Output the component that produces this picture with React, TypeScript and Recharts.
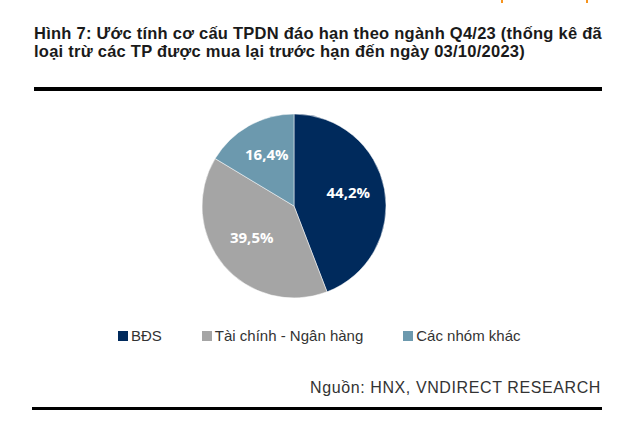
import React from 'react';
import { PieChart, Pie, Cell, Legend } from 'recharts';

const categories = ['BĐS', 'Tài chính - Ngân hàng', 'Các nhóm khác'];
const shares = [44.2, 39.5, 16.4];
const colors = ['#002A5C', '#A5A5A5', '#6C99AE'];
const titleLines = [
  'Hình 7: Ước tính cơ cấu TPDN đáo hạn theo ngành Q4/23 (thống kê đã',
  'loại trừ các TP được mua lại trước hạn đến ngày 03/10/2023)',
];
const sourceText = 'Nguồn: HNX, VNDIRECT RESEARCH';

const data = categories.map((name, i) => ({ name, value: shares[i] }));

const RAD = Math.PI / 180;

const renderLabel = (props: any) => {
  const { cx, cy, midAngle, outerRadius, value } = props;
  const r = outerRadius * 0.6;
  const x = cx + r * Math.cos(-midAngle * RAD);
  const y = cy + r * Math.sin(-midAngle * RAD) - 4;
  return (
    <text
      x={x}
      y={y}
      fill="#ffffff"
      textAnchor="middle"
      dominantBaseline="central"
      fontFamily="'Open Sans', sans-serif"
      fontWeight={700}
      fontSize={15}
    >
      {Number(value).toFixed(1).replace('.', ',')}%
    </text>
  );
};

const renderLegend = (props: any) => {
  const payload = [...(props.payload || [])].sort(
    (a: any, b: any) => categories.indexOf(a.value) - categories.indexOf(b.value)
  );
  return (
    <div
      style={{
        display: 'flex',
        gap: 40,
        fontFamily: "'Liberation Sans', Arial, sans-serif",
        fontSize: 15,
        lineHeight: '17px',
        color: '#333',
        whiteSpace: 'nowrap',
      }}
    >
      {payload.map((p: any, i: number) => (
        <div key={i} style={{ display: 'flex', alignItems: 'center' }}>
          <span
            style={{
              display: 'inline-block',
              width: 10,
              height: 10,
              background: colors[categories.indexOf(p.value)] ?? p.color,
              marginRight: 3,
            }}
          />
          <span>{p.value}</span>
        </div>
      ))}
    </div>
  );
};

export default function App() {
  return (
    <div
      style={{
        position: 'absolute',
        left: 0,
        top: 0,
        width: 618,
        height: 428,
        background: '#fff',
        overflow: 'hidden',
      }}
    >
      <div style={{ position: 'absolute', left: 501, top: 0, width: 2, height: 3, background: '#F7941D' }} />
      <div style={{ position: 'absolute', left: 586, top: 0, width: 2, height: 3, background: '#F7941D' }} />
      {titleLines.map((t, i) => (
        <div
          key={i}
          style={{
            position: 'absolute',
            left: 34,
            top: 24 + i * 18,
            fontFamily: "'Liberation Sans', Arial, sans-serif",
            fontWeight: 700,
            fontSize: 16.5,
            letterSpacing: 0.25,
            lineHeight: '18px',
            color: '#1a1a1a',
            whiteSpace: 'nowrap',
          }}
        >
          {t}
        </div>
      ))}
      <div style={{ position: 'absolute', left: 34, top: 87, width: 568, height: 3.5, background: '#000' }} />
      <div style={{ position: 'absolute', left: 0, top: 0 }}>
        <PieChart width={618} height={428} margin={{ top: 0, right: 0, bottom: 0, left: 0 }}>
          <Pie
            data={data}
            dataKey="value"
            nameKey="name"
            cx={294}
            cy={206}
            outerRadius={92}
            startAngle={90}
            endAngle={-270}
            stroke="#ffffff"
            strokeWidth={0.5}
            label={renderLabel}
            labelLine={false}
            isAnimationActive={false}
          >
            {data.map((d, i) => (
              <Cell key={d.name} fill={colors[i]} />
            ))}
          </Pie>
          <Legend
            content={renderLegend}
            wrapperStyle={{ left: 118, top: 327, width: 'auto' }}
          />
        </PieChart>
      </div>
      <div
        style={{
          position: 'absolute',
          right: 17,
          top: 379,
          fontFamily: "'Liberation Sans', Arial, sans-serif",
          fontSize: 16,
          letterSpacing: 0.6,
          lineHeight: '18px',
          color: '#333',
          whiteSpace: 'nowrap',
        }}
      >
        {sourceText}
      </div>
      <div style={{ position: 'absolute', left: 32, top: 407, width: 570, height: 2.5, background: '#000' }} />
    </div>
  );
}
